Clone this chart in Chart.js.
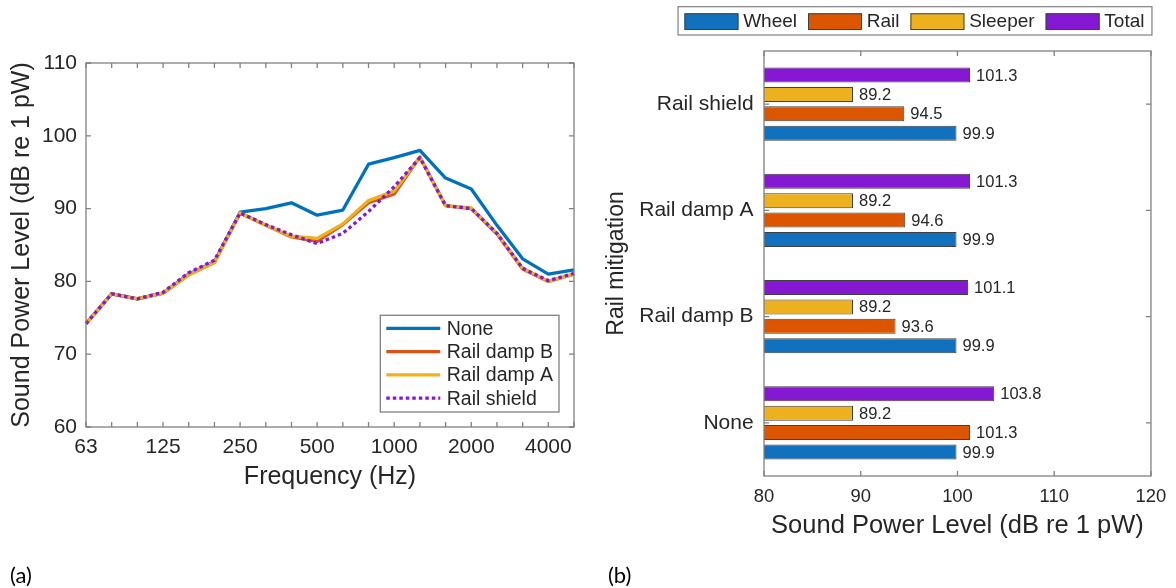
<!DOCTYPE html>
<html>
<head>
<meta charset="utf-8">
<script src="https://cdn.jsdelivr.net/npm/chart.js@4.4.1/dist/chart.umd.min.js"></script>
<style>
  html, body { margin: 0; padding: 0; background: #fff; }
  #wrap { position: relative; width: 1176px; height: 588px; overflow: hidden; }
  #c1 { position: absolute; left: 0; top: 0; }
  #c2 { position: absolute; left: 600px; top: 0; }
  .tag { position: absolute; top: 562px; font: 22px Lato, "Open Sans", sans-serif; line-height: 26px; color: #000; }
</style>
</head>
<body>
<div id="wrap">
  <canvas id="c1" width="590" height="588" style="width:590px;height:588px"></canvas>
  <canvas id="c2" width="576" height="588" style="width:576px;height:588px"></canvas>
  <div class="tag" style="left:10px">(a)</div>
  <div class="tag" style="left:608px">(b)</div>
</div>
<script>
// (a) third-octave band spectra
const freqLabels = ['63','80','100','125','160','200','250','315','400','500','630','800','1000','1250','1600','2000','2500','3150','4000','5000'];
const octaveLabels = ['63','125','250','500','1000','2000','4000'];
const noneLevels   = [74.2, 78.3, 77.6, 78.4, 81.0, 82.7, 89.5, 90.0, 90.8, 89.1, 89.8, 96.1, 97.0, 98.0, 94.2, 92.7, 87.7, 83.1, 81.0, 81.6];
const dampBLevels  = [74.2, 78.3, 77.6, 78.4, 80.9, 82.6, 89.4, 87.7, 86.1, 85.5, 87.8, 90.8, 92.0, 97.1, 90.4, 90.0, 86.5, 81.7, 80.0, 81.0];
const dampALevels  = [74.2, 78.3, 77.6, 78.4, 80.9, 82.6, 89.4, 87.7, 86.2, 85.9, 87.9, 91.1, 92.4, 97.1, 90.4, 90.1, 86.6, 81.8, 80.0, 81.0];
const shieldLevels = [74.2, 78.3, 77.6, 78.5, 81.2, 82.9, 89.4, 87.8, 86.4, 85.2, 86.6, 89.6, 93.0, 97.0, 90.4, 90.0, 86.6, 81.8, 80.1, 81.1];

// (b) overall levels per component
const mitigations = ['Rail shield', 'Rail damp A', 'Rail damp B', 'None'];
const wheelTotals   = [99.9, 99.9, 99.9, 99.9];
const railTotals    = [94.5, 94.6, 93.6, 101.3];
const sleeperTotals = [89.2, 89.2, 89.2, 89.2];
const overallTotals = [101.3, 101.3, 101.1, 103.8];

const FONT = 'Arial, "Liberation Sans", Helvetica, sans-serif';
const TEXT = '#262626';
const AXIS = '#808080';
Chart.defaults.font.family = FONT;
Chart.defaults.color = TEXT;

// box around the plot with inward ticks on all four sides
const boxTicks = {
  id: 'boxTicks',
  afterDatasetsDraw(chart) {
    const {ctx, chartArea: a, scales} = chart;
    const len = 5;
    ctx.save();
    ctx.strokeStyle = AXIS;
    ctx.lineWidth = 1.3;
    ctx.beginPath();
    scales.x.ticks.forEach((t, i) => {
      const p = scales.x.getPixelForTick(i);
      ctx.moveTo(p, a.bottom); ctx.lineTo(p, a.bottom - len);
      ctx.moveTo(p, a.top); ctx.lineTo(p, a.top + len);
    });
    scales.y.ticks.forEach((t, i) => {
      const p = scales.y.getPixelForTick(i);
      ctx.moveTo(a.left, p); ctx.lineTo(a.left + len, p);
      ctx.moveTo(a.right, p); ctx.lineTo(a.right - len, p);
    });
    ctx.stroke();
    ctx.strokeRect(a.left, a.top, a.right - a.left, a.bottom - a.top);
    ctx.restore();
  }
};

// legend inside the lower right corner of (a)
const lineLegend = {
  id: 'lineLegend',
  afterDraw(chart) {
    const {ctx, chartArea: a} = chart;
    const sets = chart.data.datasets;
    ctx.save();
    ctx.font = '19.5px ' + FONT;
    const tw = Math.max(...sets.map(d => ctx.measureText(d.label).width));
    const rowH = 23.3;
    const w = 6 + 54 + 6.5 + tw + 6;
    const h = rowH * sets.length + 3.5;
    const x0 = a.right - 15 - w, y0 = a.bottom - 15 - h;
    ctx.fillStyle = '#fff';
    ctx.fillRect(x0, y0, w, h);
    ctx.strokeStyle = AXIS;
    ctx.lineWidth = 1.3;
    ctx.strokeRect(x0, y0, w, h);
    sets.forEach((d, i) => {
      const y = y0 + 13 + i * rowH;
      ctx.strokeStyle = d.borderColor;
      ctx.lineWidth = d.borderWidth;
      ctx.setLineDash(d.borderDash || []);
      ctx.beginPath();
      ctx.moveTo(x0 + 6, y);
      ctx.lineTo(x0 + 60, y);
      ctx.stroke();
      ctx.setLineDash([]);
      ctx.fillStyle = TEXT;
      ctx.textBaseline = 'middle';
      ctx.textAlign = 'left';
      ctx.fillText(d.label, x0 + 66.5, y + 1);
    });
    ctx.restore();
  }
};

// boxed legend above (b), in Wheel/Rail/Sleeper/Total order
const barLegend = {
  id: 'barLegend',
  afterDraw(chart) {
    const {ctx, chartArea: a} = chart;
    const items = chart.data.datasets.slice().reverse();
    ctx.save();
    ctx.font = '19px ' + FONT;
    const sw = 54, sh = 16.7, gap = 4.7, sep = 11, padL = 6.4, padR = 7.5, h = 28.3;
    let w = padL + padR + sep * (items.length - 1);
    items.forEach(d => { w += sw + gap + ctx.measureText(d.label).width; });
    const x0 = a.right + 1 - w, y0 = a.top - 16 - h;
    ctx.strokeStyle = AXIS;
    ctx.lineWidth = 1.2;
    ctx.strokeRect(x0, y0, w, h);
    let x = x0 + padL;
    const sy = y0 + (h - sh) / 2 + 0.8;
    items.forEach(d => {
      ctx.fillStyle = d.backgroundColor;
      ctx.fillRect(x, sy, sw, sh);
      ctx.strokeStyle = d.borderColor;
      ctx.lineWidth = 1;
      ctx.strokeRect(x + 0.5, sy + 0.5, sw - 1, sh - 1);
      x += sw + gap;
      ctx.fillStyle = TEXT;
      ctx.textBaseline = 'middle';
      ctx.textAlign = 'left';
      ctx.fillText(d.label, x, y0 + h / 2 + 1);
      x += ctx.measureText(d.label).width + sep;
    });
    ctx.restore();
  }
};

// value printed at the end of each bar
const barValues = {
  id: 'barValues',
  afterDatasetsDraw(chart) {
    const {ctx} = chart;
    ctx.save();
    ctx.font = '16.5px ' + FONT;
    ctx.fillStyle = TEXT;
    ctx.textBaseline = 'middle';
    ctx.textAlign = 'left';
    chart.data.datasets.forEach((d, di) => {
      chart.getDatasetMeta(di).data.forEach((bar, i) => {
        ctx.fillText(d.data[i].toFixed(1), bar.x + 6, bar.y + 1);
      });
    });
    ctx.restore();
  }
};

new Chart(document.getElementById('c1'), {
  type: 'line',
  data: {
    labels: freqLabels,
    datasets: [
      {label: 'None', data: noneLevels, borderColor: '#0072BD', borderWidth: 3.3, order: 4},
      {label: 'Rail damp B', data: dampBLevels, borderColor: '#D95319', borderWidth: 3.3, order: 3},
      {label: 'Rail damp A', data: dampALevels, borderColor: '#EDB120', borderWidth: 3.3, order: 2},
      {label: 'Rail shield', data: shieldLevels, borderColor: '#8617D2', borderWidth: 3.3, borderDash: [3.5, 3], order: 1}
    ]
  },
  options: {
    responsive: false,
    animation: false,
    elements: {point: {radius: 0}, line: {tension: 0, borderJoinStyle: 'round'}},
    layout: {padding: {left: 0, top: 63, right: 16, bottom: 96}},
    plugins: {legend: {display: false}, tooltip: {enabled: false}},
    scales: {
      x: {
        type: 'category',
        offset: false,
        grid: {display: false, drawTicks: false},
        border: {display: false},
        ticks: {
          autoSkip: false, maxRotation: 0, padding: 8, color: TEXT, font: {size: 21},
          callback: (v, i) => octaveLabels.includes(freqLabels[i]) ? freqLabels[i] : ''
        },
        title: {display: true, text: 'Frequency (Hz)', color: TEXT, font: {size: 25}, padding: 0},
        afterFit: s => { s.height = 65; }
      },
      y: {
        min: 60, max: 110,
        grid: {display: false, drawTicks: false},
        border: {display: false},
        ticks: {stepSize: 10, padding: 9, color: TEXT, font: {size: 21}},
        title: {display: true, text: 'Sound Power Level (dB re 1 pW)', color: TEXT, font: {size: 25}, padding: {top: 7, bottom: 0}},
        afterFit: s => { s.width = 86; }
      }
    }
  },
  plugins: [boxTicks, lineLegend]
});

new Chart(document.getElementById('c2'), {
  type: 'bar',
  data: {
    labels: mitigations,
    datasets: [
      {label: 'Total', data: overallTotals, backgroundColor: '#8617D2'},
      {label: 'Sleeper', data: sleeperTotals, backgroundColor: '#EDB120'},
      {label: 'Rail', data: railTotals, backgroundColor: '#DC5500'},
      {label: 'Wheel', data: wheelTotals, backgroundColor: '#1171BE'}
    ].map(d => Object.assign(d, {
      borderColor: '#404040', borderWidth: 1, borderSkipped: false,
      categoryPercentage: 0.73, barPercentage: 0.773
    }))
  },
  options: {
    indexAxis: 'y',
    responsive: false,
    animation: false,
    layout: {padding: {left: 0, top: 51, right: 22, bottom: 46.7}},
    plugins: {legend: {display: false}, tooltip: {enabled: false}},
    scales: {
      x: {
        min: 80, max: 120,
        grid: {display: false, drawTicks: false},
        border: {display: false},
        ticks: {stepSize: 10, padding: 9.7, color: TEXT, font: {size: 18.4}},
        title: {display: true, text: 'Sound Power Level (dB re 1 pW)', color: TEXT, font: {size: 25.5}, padding: 0},
        afterFit: s => { s.height = 65.3; }
      },
      y: {
        grid: {display: false, drawTicks: false},
        border: {display: false},
        ticks: {padding: 10.4, color: TEXT, font: {size: 21}},
        title: {display: true, text: 'Rail mitigation', color: TEXT, font: {size: 23}, padding: {top: 3.2, bottom: 0}},
        afterFit: s => { s.width = 164; }
      }
    }
  },
  plugins: [boxTicks, barValues, barLegend]
});
</script>
</body>
</html>
